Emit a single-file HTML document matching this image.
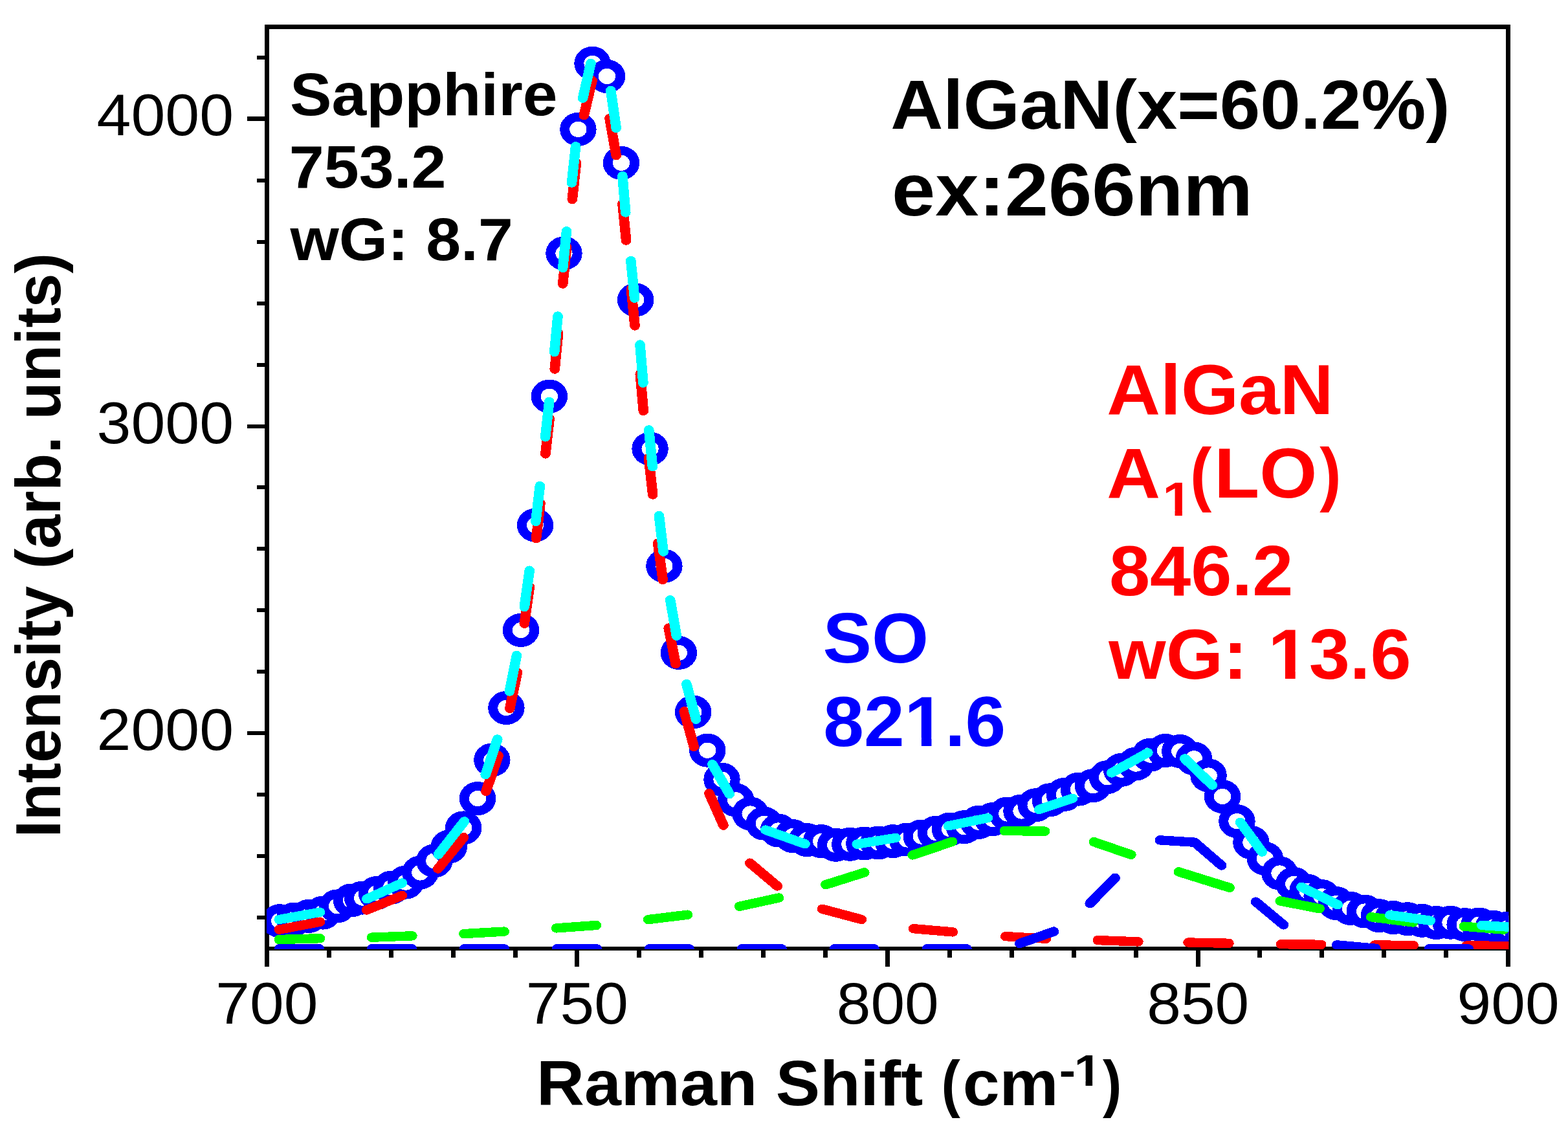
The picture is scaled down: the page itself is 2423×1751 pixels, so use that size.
<!DOCTYPE html>
<html><head><meta charset="utf-8"><title>Raman spectrum AlGaN</title>
<style>
html,body{margin:0;padding:0;background:#fff;}
body{width:2423px;height:1751px;overflow:hidden;}
svg{display:block;font-family:"Liberation Sans",sans-serif;}
</style></head><body>
<svg width="2423" height="1751" viewBox="0 0 2423 1751">
<rect width="2423" height="1751" fill="#fff"/>
<defs><clipPath id="c"><rect x="412" y="41" width="1919.3" height="1426"/></clipPath></defs>

<g fill="#000" shape-rendering="crispEdges">
<rect x="409" y="38" width="1925" height="7"/>
<rect x="409" y="1463" width="1925" height="6"/>
<rect x="409" y="38" width="7" height="1431"/>
<rect x="2327" y="38" width="7" height="1456"/>
<rect x="409" y="1465" width="7" height="29"/>
<rect x="505" y="1465" width="7" height="15"/>
<rect x="601" y="1465" width="7" height="15"/>
<rect x="697" y="1465" width="7" height="15"/>
<rect x="793" y="1465" width="7" height="15"/>
<rect x="888" y="1465" width="7" height="29"/>
<rect x="984" y="1465" width="7" height="15"/>
<rect x="1080" y="1465" width="7" height="15"/>
<rect x="1176" y="1465" width="7" height="15"/>
<rect x="1272" y="1465" width="7" height="15"/>
<rect x="1368" y="1465" width="7" height="29"/>
<rect x="1464" y="1465" width="7" height="15"/>
<rect x="1560" y="1465" width="7" height="15"/>
<rect x="1656" y="1465" width="7" height="15"/>
<rect x="1752" y="1465" width="7" height="15"/>
<rect x="1848" y="1465" width="7" height="29"/>
<rect x="1943" y="1465" width="7" height="15"/>
<rect x="2039" y="1465" width="7" height="15"/>
<rect x="2135" y="1465" width="7" height="15"/>
<rect x="2231" y="1465" width="7" height="15"/>
<rect x="2327" y="1465" width="7" height="29"/>
<rect x="397" y="1415" width="15" height="6"/>
<rect x="397" y="1320" width="15" height="6"/>
<rect x="397" y="1225" width="15" height="6"/>
<rect x="382" y="1130" width="30" height="6"/>
<rect x="397" y="1035" width="15" height="6"/>
<rect x="397" y="940" width="15" height="6"/>
<rect x="397" y="845" width="15" height="6"/>
<rect x="397" y="750" width="15" height="6"/>
<rect x="382" y="656" width="30" height="6"/>
<rect x="397" y="561" width="15" height="6"/>
<rect x="397" y="466" width="15" height="6"/>
<rect x="397" y="371" width="15" height="6"/>
<rect x="397" y="276" width="15" height="6"/>
<rect x="382" y="180" width="30" height="7"/>
<rect x="397" y="86" width="15" height="6"/>
</g>
<g clip-path="url(#c)"><g transform="scale(1.0846,1)" fill="none" stroke-linecap="round" stroke-linejoin="round" shape-rendering="crispEdges">
<g stroke="#00f" stroke-width="13.9" fill="#fff">
<circle cx="398.49" cy="1423.20" r="19.05"/>
<circle cx="419.51" cy="1420.50" r="19.05"/>
<circle cx="439.79" cy="1415.90" r="19.05"/>
<circle cx="460.08" cy="1410.60" r="19.05"/>
<circle cx="480.55" cy="1400.40" r="19.05"/>
<circle cx="500.65" cy="1391.50" r="19.05"/>
<circle cx="516.50" cy="1387.60" r="19.05"/>
<circle cx="536.60" cy="1380.10" r="19.05"/>
<circle cx="557.90" cy="1371.50" r="19.05"/>
<circle cx="578.09" cy="1363.60" r="19.05"/>
<circle cx="598.75" cy="1348.50" r="19.05"/>
<circle cx="618.94" cy="1330.30" r="19.05"/>
<circle cx="639.68" cy="1308.50" r="19.05"/>
<circle cx="660.34" cy="1279.40" r="19.05"/>
<circle cx="680.49" cy="1234.10" r="19.05"/>
<circle cx="701.09" cy="1174.50" r="19.05"/>
<circle cx="721.37" cy="1094.00" r="19.05"/>
<circle cx="742.21" cy="973.90" r="19.05"/>
<circle cx="762.54" cy="811.70" r="19.05"/>
<circle cx="782.68" cy="612.60" r="19.05"/>
<circle cx="803.52" cy="391.50" r="19.05"/>
<circle cx="823.71" cy="199.90" r="19.05"/>
<circle cx="844.09" cy="97.90" r="19.05"/>
<circle cx="864.83" cy="118.00" r="19.05"/>
<circle cx="885.12" cy="251.80" r="19.05"/>
<circle cx="905.59" cy="463.40" r="19.05"/>
<circle cx="926.24" cy="693.50" r="19.05"/>
<circle cx="946.34" cy="874.80" r="19.05"/>
<circle cx="967.08" cy="1008.90" r="19.05"/>
<circle cx="987.65" cy="1100.40" r="19.05"/>
<circle cx="1008.02" cy="1159.70" r="19.05"/>
<circle cx="1028.49" cy="1204.70" r="19.05"/>
<circle cx="1048.40" cy="1236.40" r="19.05"/>
<circle cx="1069.15" cy="1257.50" r="19.05"/>
<circle cx="1088.60" cy="1272.70" r="19.05"/>
<circle cx="1108.98" cy="1283.50" r="19.05"/>
<circle cx="1129.36" cy="1292.10" r="19.05"/>
<circle cx="1149.73" cy="1298.10" r="19.05"/>
<circle cx="1170.11" cy="1300.10" r="19.05"/>
<circle cx="1190.48" cy="1305.80" r="19.05"/>
<circle cx="1210.86" cy="1304.80" r="19.05"/>
<circle cx="1231.24" cy="1303.50" r="19.05"/>
<circle cx="1251.61" cy="1302.50" r="19.05"/>
<circle cx="1271.99" cy="1300.10" r="19.05"/>
<circle cx="1292.37" cy="1297.50" r="19.05"/>
<circle cx="1312.74" cy="1292.60" r="19.05"/>
<circle cx="1333.12" cy="1287.00" r="19.05"/>
<circle cx="1353.49" cy="1281.50" r="19.05"/>
<circle cx="1373.87" cy="1278.20" r="19.05"/>
<circle cx="1394.25" cy="1270.90" r="19.05"/>
<circle cx="1414.62" cy="1266.00" r="19.05"/>
<circle cx="1435.00" cy="1257.50" r="19.05"/>
<circle cx="1455.38" cy="1253.50" r="19.05"/>
<circle cx="1475.75" cy="1244.20" r="19.05"/>
<circle cx="1496.13" cy="1236.30" r="19.05"/>
<circle cx="1516.50" cy="1227.90" r="19.05"/>
<circle cx="1536.88" cy="1219.60" r="19.05"/>
<circle cx="1557.26" cy="1214.20" r="19.05"/>
<circle cx="1577.63" cy="1201.20" r="19.05"/>
<circle cx="1598.01" cy="1189.80" r="19.05"/>
<circle cx="1618.38" cy="1180.60" r="19.05"/>
<circle cx="1638.76" cy="1166.70" r="19.05"/>
<circle cx="1660.34" cy="1160.00" r="19.05"/>
<circle cx="1681.08" cy="1161.00" r="19.05"/>
<circle cx="1701.09" cy="1172.30" r="19.05"/>
<circle cx="1721.93" cy="1198.50" r="19.05"/>
<circle cx="1741.66" cy="1231.00" r="19.05"/>
<circle cx="1762.31" cy="1269.10" r="19.05"/>
<circle cx="1782.59" cy="1302.00" r="19.05"/>
<circle cx="1802.42" cy="1327.00" r="19.05"/>
<circle cx="1823.25" cy="1349.50" r="19.05"/>
<circle cx="1843.35" cy="1365.90" r="19.05"/>
<circle cx="1862.90" cy="1376.80" r="19.05"/>
<circle cx="1883.27" cy="1385.10" r="19.05"/>
<circle cx="1903.65" cy="1396.00" r="19.05"/>
<circle cx="1924.03" cy="1403.90" r="19.05"/>
<circle cx="1944.40" cy="1408.50" r="19.05"/>
<circle cx="1964.78" cy="1415.20" r="19.05"/>
<circle cx="1985.16" cy="1418.00" r="19.05"/>
<circle cx="2005.53" cy="1420.20" r="19.05"/>
<circle cx="2025.91" cy="1422.80" r="19.05"/>
<circle cx="2046.28" cy="1426.00" r="19.05"/>
<circle cx="2066.66" cy="1425.70" r="19.05"/>
<circle cx="2087.04" cy="1429.10" r="19.05"/>
<circle cx="2107.41" cy="1428.60" r="19.05"/>
<circle cx="2127.79" cy="1432.80" r="19.05"/>
<circle cx="2148.17" cy="1434.50" r="19.05"/>
<circle cx="2168.54" cy="1435.50" r="19.05"/>
</g>
<g stroke="#f00" stroke-width="14.4">
<path d="M397.66 1436.70 L455.84 1424.70M522.50 1406.40 L572.84 1384.00M624.10 1342.60 L660.70 1294.10M692.51 1222.80 L710.03 1167.80M726.35 1094.90 L737.05 1039.10M747.10 963.70 L754.56 907.20M763.88 832.30 L769.87 777.50M777.15 701.40 L782.87 646.80M790.34 570.50 L795.32 515.00M801.86 438.70 L807.30 382.00M815.32 308.10 L821.04 251.60M831.92 178.20 L843.63 124.50M868.52 183.00 L877.93 240.20M886.96 315.00 L892.13 371.60M899.23 447.00 L904.48 503.50M912.13 578.20 L916.74 634.90M924.30 707.80 L930.02 764.40M937.30 839.50 L944.31 895.80M952.61 970.60 L962.66 1026.10M974.83 1099.30 L988.66 1154.00M1010.42 1226.20 L1030.70 1275.50M1068.41 1333.70 L1107.60 1369.50M1171.40 1404.80 L1227.46 1421.00M1301.49 1435.20 L1357.55 1440.40M1432.60 1447.10 L1490.32 1450.70M1563.99 1453.10 L1621.70 1455.40M1692.88 1456.50 L1750.78 1457.80M1825.19 1459.20 L1882.45 1459.80M1958.69 1460.50 L2013.74 1461.00M2089.16 1461.50 L2166.70 1462.00"/>
</g>
<g stroke="#0f0" stroke-width="14.4">
<path d="M397.66 1452.00 L455.84 1450.20M529.78 1448.70 L587.22 1446.30M660.98 1443.10 L718.42 1439.60M792.64 1434.40 L849.53 1430.00M923.57 1421.10 L979.62 1413.70M1053.48 1400.80 L1109.63 1387.50M1176.56 1367.20 L1231.51 1348.40M1300.20 1321.40 L1356.72 1300.80M1431.22 1284.00 L1488.66 1284.70M1558.55 1301.10 L1611.47 1320.90M1679.42 1347.40 L1751.98 1371.90M1823.99 1392.40 L1880.05 1404.30M1953.44 1417.20 L2013.65 1425.50M2086.02 1431.70 L2142.73 1436.60"/>
</g>
<g stroke="#00f" stroke-width="14.4">
<path d="M398.12 1466.30 L454.73 1466.30M529.94 1466.30 L586.55 1466.30M661.76 1466.30 L718.37 1466.30M793.57 1466.30 L850.18 1466.30M925.39 1466.30 L982.00 1466.30M1057.21 1466.30 L1113.82 1466.30M1189.03 1466.30 L1245.64 1466.30M1320.85 1466.30 L1377.46 1466.30M1452.89 1458.10 L1501.38 1439.60M1552.92 1396.30 L1588.70 1356.70M1652.59 1298.40 L1702.01 1301.70 L1740.37 1337.50M1789.23 1393.70 L1828.78 1429.40M1904.57 1460.40 L1960.08 1465.80M2036.23 1466.30 L2092.11 1466.30"/>
</g>
<g stroke="#0ff" stroke-width="14.4">
<path d="M397.66 1421.10 L455.84 1409.70M522.50 1389.30 L572.84 1364.60M624.56 1320.50 L661.53 1269.40M691.68 1197.20 L708.74 1142.50M725.89 1068.50 L736.12 1012.90M747.10 938.10 L754.38 881.70M763.32 805.80 L769.22 751.10M776.88 675.40 L782.50 620.80M789.88 544.00 L794.76 488.50M801.86 414.00 L807.21 357.20M814.59 282.60 L820.21 226.10M830.35 151.70 L841.69 97.90M870.18 139.80 L877.93 197.90M886.87 272.00 L891.30 328.40M898.76 403.00 L904.20 460.80M911.86 532.60 L916.37 591.70M924.49 664.30 L929.74 721.20M938.96 797.00 L945.14 852.60M954.91 927.20 L963.95 982.90M978.06 1057.00 L991.61 1111.70M1015.03 1181.30 L1039.37 1227.20M1090.54 1282.60 L1146.97 1304.30M1221.00 1304.60 L1276.23 1294.90M1351.19 1276.30 L1407.34 1264.10M1480.55 1251.00 L1528.12 1233.80M1583.81 1194.40 L1635.44 1163.20M1688.00 1172.40 L1727.27 1213.50M1767.10 1270.80 L1798.08 1316.60M1854.14 1370.80 L1905.96 1398.20M1980.27 1414.00 L2037.99 1422.80M2111.19 1429.90 L2166.70 1434.00"/>
</g>
</g></g>
<g fill="#000"><text font-weight="normal" fill="#000"><tspan x="149.61" y="209.40" font-size="90.70" textLength="211.46" lengthAdjust="spacingAndGlyphs">4000</tspan></text>
<text font-weight="normal" fill="#000"><tspan x="149.61" y="685.00" font-size="90.70" textLength="211.46" lengthAdjust="spacingAndGlyphs">3000</tspan></text>
<text font-weight="normal" fill="#000"><tspan x="149.61" y="1158.80" font-size="90.70" textLength="211.46" lengthAdjust="spacingAndGlyphs">2000</tspan></text>
<text font-weight="normal" fill="#000"><tspan x="333.34" y="1581.90" font-size="90.70" textLength="157.99" lengthAdjust="spacingAndGlyphs">700</tspan></text>
<text font-weight="normal" fill="#000"><tspan x="812.84" y="1581.90" font-size="90.70" textLength="157.99" lengthAdjust="spacingAndGlyphs">750</tspan></text>
<text font-weight="normal" fill="#000"><tspan x="1292.81" y="1581.90" font-size="90.70" textLength="157.99" lengthAdjust="spacingAndGlyphs">800</tspan></text>
<text font-weight="normal" fill="#000"><tspan x="1772.31" y="1581.90" font-size="90.70" textLength="157.99" lengthAdjust="spacingAndGlyphs">850</tspan></text>
<text font-weight="normal" fill="#000"><tspan x="2251.58" y="1581.90" font-size="90.70" textLength="157.99" lengthAdjust="spacingAndGlyphs">900</tspan></text>
<text font-weight="bold" fill="#000"><tspan x="448.00" y="177.70" font-size="93.10" textLength="413.58" lengthAdjust="spacingAndGlyphs">Sapphire</tspan></text>
<text font-weight="bold" fill="#000"><tspan x="446.78" y="289.90" font-size="93.10" textLength="242.81" lengthAdjust="spacingAndGlyphs">753.2</tspan></text>
<text font-weight="bold" fill="#000"><tspan x="448.44" y="401.90" font-size="93.10" textLength="344.44" lengthAdjust="spacingAndGlyphs">wG: 8.7</tspan></text>
<text font-weight="bold" fill="#000"><tspan x="1376.24" y="198.80" font-size="107.35" textLength="864.42" lengthAdjust="spacingAndGlyphs">AlGaN(x=60.2%)</tspan></text>
<text font-weight="bold" fill="#000"><tspan x="1378.07" y="332.80" font-size="114.33" textLength="557.66" lengthAdjust="spacingAndGlyphs">ex:266nm</tspan></text>
<text font-weight="bold" fill="#f00"><tspan x="1710.28" y="639.90" font-size="109.09" textLength="350.41" lengthAdjust="spacingAndGlyphs">AlGaN</tspan></text>
<text font-weight="bold" fill="#f00"><tspan x="1710.28" y="768.80" font-size="109.09" textLength="82.80" lengthAdjust="spacingAndGlyphs">A</tspan><tspan x="1796.48" y="796.80" font-size="73.75" textLength="45.53" lengthAdjust="spacingAndGlyphs">1</tspan><tspan x="1838.90" y="768.80" font-size="109.09" textLength="33.30" lengthAdjust="spacingAndGlyphs">(</tspan><tspan x="1876.28" y="768.80" font-size="109.09" textLength="158.93" lengthAdjust="spacingAndGlyphs">LO</tspan><tspan x="2039.15" y="768.80" font-size="109.09" textLength="33.30" lengthAdjust="spacingAndGlyphs">)</tspan></text>
<text font-weight="bold" fill="#f00"><tspan x="1713.91" y="919.90" font-size="109.09" textLength="284.44" lengthAdjust="spacingAndGlyphs">846.2</tspan></text>
<text font-weight="bold" fill="#f00"><tspan x="1713.38" y="1048.80" font-size="109.09" textLength="246.13" lengthAdjust="spacingAndGlyphs">wG: </tspan><tspan x="1959.51" y="1048.80" font-size="109.09" textLength="63.18" lengthAdjust="spacingAndGlyphs">1</tspan><tspan x="2022.69" y="1048.80" font-size="109.09" textLength="157.93" lengthAdjust="spacingAndGlyphs">3.6</tspan></text>
<text font-weight="bold" fill="#00f"><tspan x="1271.50" y="1024.30" font-size="109.09" textLength="163.59" lengthAdjust="spacingAndGlyphs">SO</tspan></text>
<text font-weight="bold" fill="#00f"><tspan x="1272.34" y="1153.00" font-size="109.09" textLength="125.30" lengthAdjust="spacingAndGlyphs">82</tspan><tspan x="1397.64" y="1153.00" font-size="109.09" textLength="62.65" lengthAdjust="spacingAndGlyphs">1</tspan><tspan x="1460.30" y="1153.00" font-size="109.09" textLength="93.95" lengthAdjust="spacingAndGlyphs">.6</tspan></text>
<text font-weight="bold" fill="#000"><tspan x="828.99" y="1707.90" font-size="98.76" textLength="625.70" lengthAdjust="spacingAndGlyphs">Raman Shift </tspan><tspan x="1454.59" y="1707.90" font-size="98.76" textLength="29.38" lengthAdjust="spacingAndGlyphs">(</tspan><tspan x="1487.71" y="1707.90" font-size="98.76" textLength="147.93" lengthAdjust="spacingAndGlyphs">cm</tspan><tspan x="1636.76" y="1677.70" font-size="68.95" textLength="25.32" lengthAdjust="spacingAndGlyphs">-</tspan><tspan x="1659.72" y="1677.70" font-size="68.95" textLength="42.56" lengthAdjust="spacingAndGlyphs">1</tspan><tspan x="1703.88" y="1707.90" font-size="98.76" textLength="29.38" lengthAdjust="spacingAndGlyphs">)</tspan></text>
<text transform="translate(93.1,1294.18) rotate(-90) scale(0.9527,1)" font-size="99.20" font-weight="bold">Intensity (arb. units)</text></g>
<g fill="#fff"><rect x="1798.94" y="788.10" width="16.62" height="10.32"/>
<rect x="1826.85" y="788.10" width="14.73" height="10.32"/>
<rect x="1962.92" y="1035.93" width="23.06" height="15.27"/>
<rect x="2001.66" y="1035.93" width="20.45" height="15.27"/>
<rect x="1401.02" y="1140.13" width="22.87" height="15.27"/>
<rect x="1439.44" y="1140.13" width="20.28" height="15.27"/>
<rect x="1662.01" y="1669.56" width="15.54" height="9.65"/>
<rect x="1688.11" y="1669.56" width="13.78" height="9.65"/></g>
</svg></body></html>
